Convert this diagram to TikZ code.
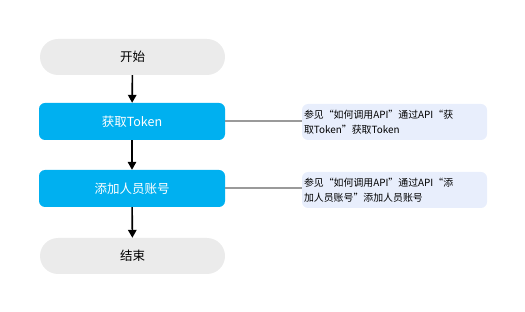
\documentclass[tikz,border=0pt]{standalone}
\usepackage{fontspec}
\setmainfont{Noto Sans CJK SC}
\usetikzlibrary{arrows.meta}
\definecolor{skyblue}{HTML}{00B0F0}
\definecolor{lightgray}{HTML}{EBEBEB}
\definecolor{notefill}{HTML}{E8EEFC}
\definecolor{linkgray}{HTML}{9A9A9A}

\begin{document}
\begin{tikzpicture}[x=1pt,y=-1pt,
  term/.style={fill=lightgray,minimum width=185pt,minimum height=36pt,rounded corners=18pt,font=\fontsize{12.5}{15}\selectfont},
  stepbox/.style={fill=skyblue,text=white,minimum width=186pt,minimum height=37pt,rounded corners=6pt,font=\fontsize{12.5}{15}\selectfont},
  note/.style={fill=notefill,text width=181pt,inner xsep=2pt,minimum height=36pt,rounded corners=6pt,align=left,font=\fontsize{9.9}{15.5}\selectfont},
  flow/.style={line width=1.6pt,-{Triangle[length=8pt,width=8.5pt]}},
  link/.style={linkgray,line width=2pt}]
\useasboundingbox (0,0) rectangle (525,312);
\node[term] (start) at (132.5,57) {开始};
\node[stepbox] (token) at (132,121.5) {获取Token};
\node[stepbox] (add) at (132,188.5) {添加人员账号};
\node[term] (stop) at (132.5,256) {结束};
\node[note] (note1) at (394.5,122) {参见“如何调用API”通过API“获\\取Token”获取Token};
\node[note] (note2) at (394.5,190) {参见“如何调用API”通过API“添\\加人员账号”添加人员账号};
\draw[flow] (start) -- (token);
\draw[flow] (token) -- (add);
\draw[flow] (add) -- (stop);
\draw[link] (token.east) -- (token.east -| note1.west);
\draw[link] (add.east) -- (add.east -| note2.west);
\end{tikzpicture}
\end{document}
